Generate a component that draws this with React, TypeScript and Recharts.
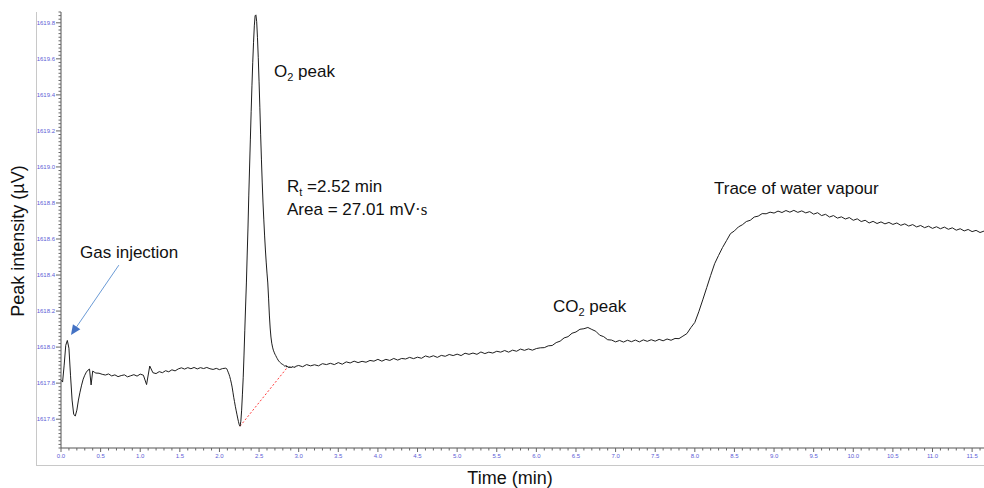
import React from 'react';
import { LineChart, Line, XAxis, YAxis, ReferenceLine } from 'recharts';

// Detector signal (µV), sampled at a different rate in each stretch of the run
// 0.00–0.44 min, every 0.02 min
const injectionTrace = [
  1617.817, 1617.806, 1617.900, 1618.010, 1618.037, 1617.994, 1617.844, 1617.706, 1617.628, 1617.617,
  1617.650, 1617.706, 1617.750, 1617.789, 1617.822, 1617.844, 1617.861, 1617.872, 1617.878, 1617.790,
  1617.867, 1617.861, 1617.856,
];

// 0.48–2.04 min, every 0.04 min
const earlyBaseline = [
  1617.855, 1617.849, 1617.845, 1617.851, 1617.840, 1617.846, 1617.836, 1617.842, 1617.846, 1617.835,
  1617.841, 1617.847, 1617.839, 1617.850, 1617.844, 1617.792, 1617.895, 1617.858, 1617.853, 1617.864,
  1617.858, 1617.869, 1617.863, 1617.874, 1617.868, 1617.879, 1617.885, 1617.878, 1617.886, 1617.880,
  1617.887, 1617.879, 1617.886, 1617.881, 1617.887, 1617.880, 1617.876, 1617.882, 1617.875, 1617.881,
];

// 2.08–2.96 min, every 0.01 min (O2 peak)
const o2Trace = [
  1617.883, 1617.881, 1617.872, 1617.861, 1617.850, 1617.836, 1617.819, 1617.800, 1617.778, 1617.750,
  1617.722, 1617.697, 1617.672, 1617.650, 1617.628, 1617.606, 1617.586, 1617.569, 1617.561, 1617.589,
  1617.650, 1617.739, 1617.833, 1617.956, 1618.094, 1618.228, 1618.356, 1618.511, 1618.661, 1618.839,
  1618.994, 1619.150, 1619.306, 1619.450, 1619.578, 1619.689, 1619.783, 1619.839, 1619.844, 1619.806,
  1619.717, 1619.606, 1619.472, 1619.328, 1619.178, 1619.039, 1618.911, 1618.800, 1618.706, 1618.617,
  1618.539, 1618.472, 1618.411, 1618.356, 1618.272, 1618.178, 1618.106, 1618.056, 1618.022, 1618.000,
  1617.983, 1617.972, 1617.961, 1617.953, 1617.944, 1617.936, 1617.928, 1617.922, 1617.917, 1617.914,
  1617.908, 1617.906, 1617.903, 1617.900, 1617.896, 1617.893, 1617.899, 1617.889, 1617.894, 1617.886,
  1617.892, 1617.884, 1617.891, 1617.886, 1617.893, 1617.887, 1617.892, 1617.886, 1617.893,
];

// 3.00–11.65 min, every 0.05 min (CO2 peak and water vapour)
const lateTrace = [
  1617.898, 1617.891, 1617.903, 1617.896, 1617.902, 1617.896, 1617.908, 1617.903, 1617.910, 1617.903,
  1617.914, 1617.905, 1617.918, 1617.912, 1617.922, 1617.914, 1617.921, 1617.916, 1617.926, 1617.922,
  1617.932, 1617.922, 1617.932, 1617.926, 1617.937, 1617.928, 1617.937, 1617.934, 1617.943, 1617.936,
  1617.944, 1617.938, 1617.951, 1617.944, 1617.952, 1617.943, 1617.954, 1617.949, 1617.959, 1617.953,
  1617.961, 1617.953, 1617.966, 1617.960, 1617.967, 1617.960, 1617.973, 1617.964, 1617.972, 1617.967,
  1617.977, 1617.972, 1617.981, 1617.972, 1617.983, 1617.977, 1617.989, 1617.982, 1617.990, 1617.983,
  1617.992, 1617.996, 1617.997, 1618.007, 1618.009, 1618.025, 1618.033, 1618.051, 1618.058, 1618.077,
  1618.084, 1618.099, 1618.102, 1618.109, 1618.098, 1618.088, 1618.066, 1618.058, 1618.041, 1618.039,
  1618.029, 1618.037, 1618.028, 1618.038, 1618.030, 1618.039, 1618.029, 1618.040, 1618.032, 1618.041,
  1618.033, 1618.043, 1618.035, 1618.045, 1618.038, 1618.048, 1618.047, 1618.061, 1618.075, 1618.108,
  1618.137, 1618.196, 1618.262, 1618.330, 1618.398, 1618.463, 1618.509, 1618.553, 1618.591, 1618.630,
  1618.645, 1618.667, 1618.679, 1618.697, 1618.704, 1618.722, 1618.727, 1618.741, 1618.740, 1618.749,
  1618.744, 1618.755, 1618.747, 1618.758, 1618.749, 1618.759, 1618.748, 1618.756, 1618.745, 1618.752,
  1618.738, 1618.746, 1618.730, 1618.737, 1618.722, 1618.730, 1618.716, 1618.723, 1618.711, 1618.719,
  1618.704, 1618.712, 1618.697, 1618.704, 1618.689, 1618.698, 1618.686, 1618.695, 1618.684, 1618.692,
  1618.681, 1618.689, 1618.676, 1618.684, 1618.672, 1618.680, 1618.667, 1618.675, 1618.663, 1618.671,
  1618.659, 1618.668, 1618.657, 1618.666, 1618.654, 1618.662, 1618.649, 1618.657, 1618.645, 1618.653,
  1618.641, 1618.648, 1618.636, 1618.644,
];

const xLabelTicks = [0, 0.5, 1, 1.5, 2, 2.5, 3, 3.5, 4, 4.5, 5, 5.5, 6, 6.5, 7, 7.5, 8, 8.5, 9, 9.5, 10, 10.5, 11, 11.5];
const yLabelTicks = [1617.6, 1617.8, 1618.0, 1618.2, 1618.4, 1618.6, 1618.8, 1619.0, 1619.2, 1619.4, 1619.6, 1619.8];

// integration baseline under the O2 peak, and the arrow to the injection pulse
const o2Baseline = [{ x: 2.26, y: 1617.561 }, { x: 2.86, y: 1617.889 }];
const injectionArrow = [{ x: 0.73, y: 1618.455 }, { x: 0.126, y: 1618.067 }];

const X_DOMAIN: [number, number] = [0, 11.65];
const Y_DOMAIN: [number, number] = [1617.44, 1619.86];

const sampled = (start: number, step: number, values: number[]) =>
  values.map((v, i) => ({ t: Number((start + i * step).toFixed(2)), v }));

const trace = [
  ...sampled(0, 0.02, injectionTrace),
  ...sampled(0.48, 0.04, earlyBaseline),
  ...sampled(2.08, 0.01, o2Trace),
  ...sampled(3.0, 0.05, lateTrace),
];

// minor ticks every 0.1 min / 0.02 µV, labels only on the major ones
const xTicks = Array.from({ length: 117 }, (_, i) => Number((i * 0.1).toFixed(1)));
const yTicks = Array.from({ length: 122 }, (_, i) => Number((1617.44 + i * 0.02).toFixed(2)));

const FONT = '"Liberation Sans", Arial, sans-serif';
const TICK_COLOR = '#5c5cd6';

const XTick = (props: any) => {
  const { x, y, payload } = props;
  const major = xLabelTicks.includes(payload.value);
  return (
    <g>
      <line x1={x} y1={y} x2={x} y2={y + (major ? 4 : 2.5)} stroke="#666" />
      {major && (
        <text x={x} y={y + 10} textAnchor="middle" fontSize={6} fontFamily={FONT} fill={TICK_COLOR}>
          {payload.value.toFixed(1)}
        </text>
      )}
    </g>
  );
};

const YTick = (props: any) => {
  const { x, y, payload } = props;
  const major = yLabelTicks.includes(payload.value);
  return (
    <g>
      <line x1={x - (major ? 5 : 2.5)} y1={y} x2={x} y2={y} stroke="#666" />
      {major && (
        <text x={x - 6} y={y + 2} textAnchor="end" fontSize={6} fontFamily={FONT} fill={TICK_COLOR}>
          {payload.value.toFixed(1)}
        </text>
      )}
    </g>
  );
};

const ArrowShape = (props: any) => {
  const { x1, y1, x2, y2 } = props;
  const dx = x2 - x1;
  const dy = y2 - y1;
  const len = Math.sqrt(dx * dx + dy * dy);
  const ux = dx / len;
  const uy = dy / len;
  const bx = x2 - ux * 10;
  const by = y2 - uy * 10;
  const head = `${x2},${y2} ${bx - uy * 4.5},${by + ux * 4.5} ${bx + uy * 4.5},${by - ux * 4.5}`;
  return (
    <g>
      <line x1={x1} y1={y1} x2={bx} y2={by} stroke="#6b9bd6" strokeWidth={1} />
      <polygon points={head} fill="#4472c4" />
    </g>
  );
};

const App = () => {
  return (
    <div style={{ position: 'absolute', left: 0, top: 0, width: 984, height: 488, background: '#fff' }}>
      <LineChart width={984} height={488} data={trace} margin={{ top: 12, right: 0, bottom: 0, left: 0 }}>
        <XAxis
          dataKey="t"
          type="number"
          domain={X_DOMAIN}
          ticks={xTicks}
          interval={0}
          height={40}
          tickSize={0}
          tickMargin={0}
          tickLine={false}
          tick={XTick}
          axisLine={{ stroke: '#555' }}
          allowDataOverflow
        />
        <YAxis
          type="number"
          domain={Y_DOMAIN}
          ticks={yTicks}
          interval={0}
          width={61}
          tickSize={0}
          tickMargin={0}
          tickLine={false}
          tick={YTick}
          axisLine={{ stroke: '#555' }}
          allowDataOverflow
        />
        <ReferenceLine segment={o2Baseline} stroke="#ff3b3b" strokeDasharray="2 2" strokeWidth={1} />
        <ReferenceLine segment={injectionArrow} shape={ArrowShape} />
        <Line
          type="linear"
          dataKey="v"
          stroke="#1e1e1e"
          strokeWidth={1}
          dot={false}
          activeDot={false}
          isAnimationActive={false}
        />
      </LineChart>

      <svg
        width={984}
        height={488}
        style={{ position: 'absolute', left: 0, top: 0, pointerEvents: 'none' }}
        fontFamily={FONT}
      >
        <line x1={36.5} y1={12} x2={36.5} y2={465.5} stroke="#c8c8c8" />
        <line x1={36} y1={465.5} x2={984} y2={465.5} stroke="#c8c8c8" />

        <text x={274} y={77} fontSize={17} fill="#111">
          O<tspan dy={4} fontSize={11}>2</tspan>
          <tspan dy={-4}> peak</tspan>
        </text>
        <text x={287} y={192} fontSize={17} fill="#111">
          R<tspan dy={4} fontSize={11}>t</tspan>
          <tspan dy={-4}> =2.52 min</tspan>
        </text>
        <text x={287} y={215} fontSize={17} fill="#111">
          Area = 27.01 mV<tspan fontFamily='"Liberation Serif", serif'>·s</tspan>
        </text>
        <text x={80} y={258} fontSize={17} fill="#111">Gas injection</text>
        <text x={553} y={312} fontSize={17} fill="#111">
          CO<tspan dy={4} fontSize={11}>2</tspan>
          <tspan dy={-4}> peak</tspan>
        </text>
        <text x={714} y={194} fontSize={17} fill="#111">Trace of water vapour</text>

        <text x={510} y={484} fontSize={18} textAnchor="middle" fill="#111">Time (min)</text>
        <text x={24} y={241} fontSize={18} textAnchor="middle" fill="#111" transform="rotate(-90 24 241)">
          Peak intensity (µV)
        </text>
      </svg>
    </div>
  );
};

export default App;
